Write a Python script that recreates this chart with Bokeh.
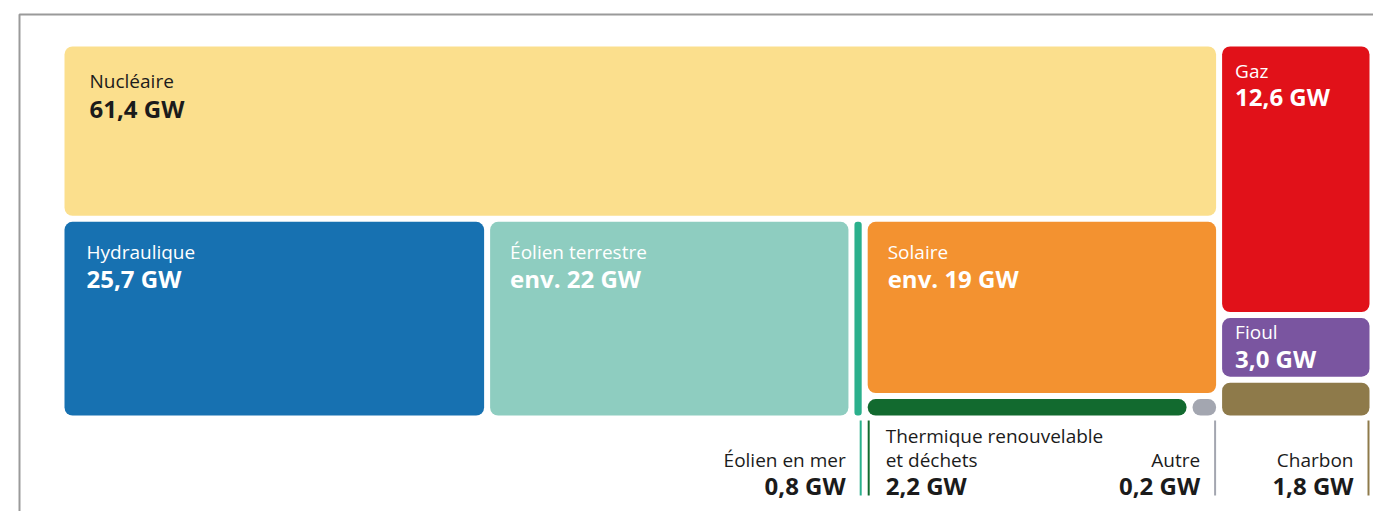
from bokeh.plotting import figure
from bokeh.models import Range1d
from bokeh.embed import file_html
from bokeh.resources import INLINE
from bokeh.core.properties import value

# ---------------- DATA ----------------
keys = ["nuc", "hyd", "eot", "eom", "sol", "the", "aut", "gaz", "fio", "cha"]
names = ["Nucléaire", "Hydraulique", "Éolien terrestre", "Éolien en mer", "Solaire",
         "Thermique renouvelable\net déchets", "Autre", "Gaz", "Fioul", "Charbon"]
capacity_gw = [61.4, 25.7, 22, 0.8, 19, 2.2, 0.2, 12.6, 3.0, 1.8]
approx = [False, False, True, False, True, False, False, False, False, False]

# treemap hierarchy (slice-and-dice, alternating split direction)
tree = [["nuc", ["hyd", "eot", "eom", ["sol", ["the", "aut"]]]], ["gaz", "fio", "cha"]]

# ---------------- STYLE ----------------
colors = {"nuc": "#fbdf8d", "hyd": "#1771b1", "eot": "#8ecdc0", "eom": "#2bb08c",
          "sol": "#f39230", "the": "#126a2f", "aut": "#a3a6b0", "gaz": "#e11119",
          "fio": "#7a55a0", "cha": "#8e7a4a"}
# inner labels: key -> (pad x, name baseline, value baseline, text colour)
inner = {"nuc": (25, 42, 70, "#1b1b1b"), "hyd": (22, 38, 65, "white"),
         "eot": (20, 38, 65, "white"), "sol": (20, 38, 65, "white"),
         "gaz": (13, 32, 58, "white"), "fio": (13, 22, 48, "white")}
# outer labels: key -> side of tile where the leader line sits
outer = {"eom": "right", "the": "left", "aut": "right", "cha": "right"}
FONT = value("Open Sans")
NAME_SIZE = "19px"
VAL_SIZE = "24px"
BOX = (61, 43, 1372, 418)   # treemap area (page pixels)
GAP = 3
DY = -8                     # baseline correction

W, H = 1373, 511
p = figure(width=W, height=H, output_backend="svg", toolbar_location=None,
           x_range=Range1d(0, W), y_range=Range1d(H, 0), min_border=0)
p.axis.visible = False
p.grid.visible = False
p.outline_line_color = None
p.background_fill_color = "white"

val = dict(zip(keys, capacity_gw))
lab = dict(zip(keys, names))
apx = dict(zip(keys, approx))


def total(node):
    return val[node] if isinstance(node, str) else sum(total(c) for c in node)


cells = {}


def layout(node, x0, y0, x1, y1, horiz):
    if isinstance(node, str):
        cells[node] = (x0, y0, x1, y1)
        return
    t = total(node)
    pos = x0 if horiz else y0
    for c in node:
        f = total(c) / t
        if horiz:
            w = (x1 - x0) * f
            layout(c, pos, y0, pos + w, y1, not horiz)
            pos += w
        else:
            h = (y1 - y0) * f
            layout(c, x0, pos, x1, pos + h, not horiz)
            pos += h


layout(tree, *BOX, True)


def fmt(k):
    if apx[k]:
        return "env. %d GW" % round(val[k])
    return ("%.1f" % val[k]).replace(".", ",") + " GW"


L, R, T, B, C, RAD = [], [], [], [], [], []
for k in keys:
    x0, y0, x1, y1 = cells[k]
    L.append(x0 + GAP); R.append(x1 - GAP); T.append(y0 + GAP); B.append(y1 - GAP)
    C.append(colors[k])
    RAD.append(int(max(0, min(8, (x1 - x0 - 2 * GAP) / 2, (y1 - y0 - 2 * GAP) / 2))))

for i in range(len(keys)):
    p.quad(left=[L[i]], right=[R[i]], top=[T[i]], bottom=[B[i]], fill_color=C[i],
           line_color=None, border_radius=RAD[i])

# frame
p.line(x=[1373, 19, 19], y=[14, 14, 511], line_color="#9a9a9a", line_width=2)

# inner labels
for k, (px, nb, vb, tc) in inner.items():
    i = keys.index(k)
    p.text(x=[L[i] + px], y=[T[i] + nb + DY], text=[lab[k]], text_font=FONT,
           text_font_size=NAME_SIZE, text_color=tc, text_baseline="alphabetic")
    p.text(x=[L[i] + px], y=[T[i] + vb + DY], text=[fmt(k)], text_font=FONT,
           text_font_size=VAL_SIZE, text_font_style="bold", text_color=tc,
           text_baseline="alphabetic")

# outer labels with leader lines
LINE_TOP, LINE_BOT = 420, 495
VAL_BASE, NAME_BASE, LH = 493, 467, 24
for k, side in outer.items():
    i = keys.index(k)
    lx = R[i] - 1 if side == "right" else L[i] + 1
    p.line(x=[lx, lx], y=[LINE_TOP, LINE_BOT], line_color=colors[k], line_width=2)
    tx = lx - 15 if side == "right" else lx + 17
    align = "right" if side == "right" else "left"
    lines = lab[k].split("\n")
    for j, ln in enumerate(lines):
        yb = NAME_BASE - (len(lines) - 1 - j) * LH + DY
        p.text(x=[tx], y=[yb], text=[ln], text_font=FONT, text_font_size=NAME_SIZE,
               text_color="#1b1b1b", text_align=align, text_baseline="alphabetic")
    p.text(x=[tx], y=[VAL_BASE + DY], text=[fmt(k)], text_font=FONT,
           text_font_size=VAL_SIZE, text_font_style="bold", text_color="#1b1b1b",
           text_align=align, text_baseline="alphabetic")

open("out.html", "w").write(file_html(p, INLINE))
